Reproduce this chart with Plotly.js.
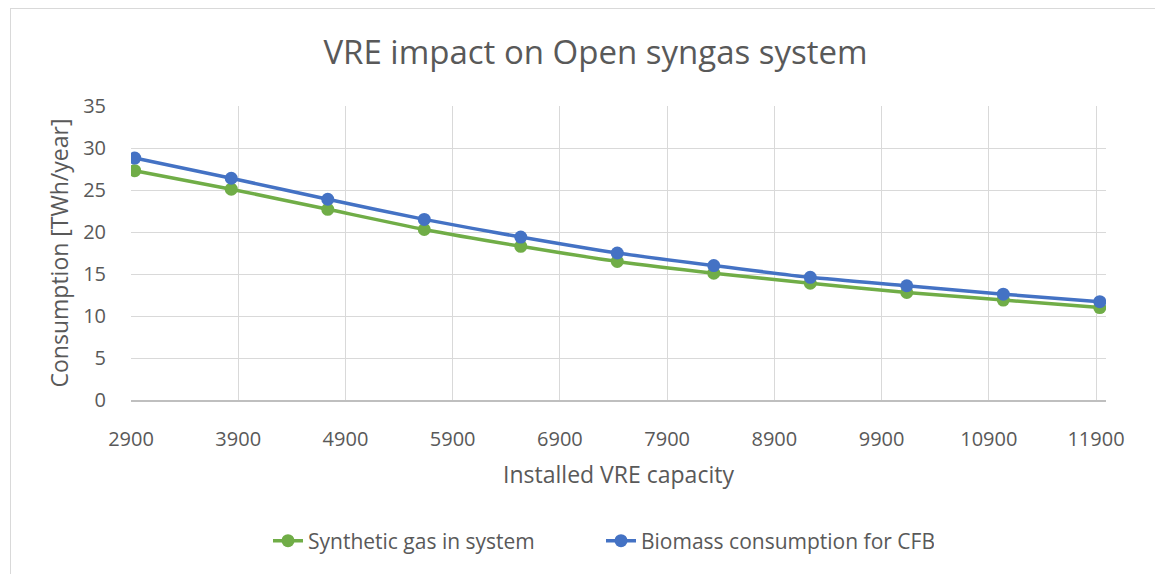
<!DOCTYPE html>
<html>
<head>
<meta charset="utf-8">
<script src="https://cdn.plot.ly/plotly-3.0.1.min.js"></script>
<style>
  html, body { margin: 0; padding: 0; background: #ffffff; }
  #wrap { position: relative; width: 1155px; height: 574px; overflow: hidden; }
  #chart { position: absolute; left: 0; top: 0; width: 1155px; height: 574px; }
  #frame { position: absolute; left: 10px; top: 8px; width: 1200px; height: 600px;
           border-left: 1px solid #d9d9d9; border-top: 1px solid #d9d9d9; pointer-events: none; }
</style>
</head>
<body>
<div id="wrap">
  <div id="chart"></div>
  <div id="frame"></div>
</div>
<script>
// Installed VRE capacity (x values of the points)
const vreCapacity = [2935, 3835, 4735, 5635, 6535, 7435, 8335, 9235, 10135, 11035, 11935];
// Synthetic gas in system [TWh/year]
const syntheticGas = [27.3, 25.1, 22.7, 20.3, 18.3, 16.5, 15.1, 13.9, 12.8, 11.9, 11.0];
// Biomass consumption for CFB [TWh/year]
const biomassCFB = [28.8, 26.4, 23.9, 21.5, 19.4, 17.5, 16.0, 14.6, 13.6, 12.6, 11.7];
const seriesNames = ["Synthetic gas in system", "Biomass consumption for CFB"];

const FONT = "Open Sans, Lato, sans-serif";
const TXT = "#595959";

const traces = [
  {
    x: vreCapacity, y: syntheticGas, name: seriesNames[0], type: "scatter", mode: "lines+markers",
    line: { color: "#70AD47", width: 3.5, shape: "spline", smoothing: 0.6 },
    marker: { color: "#70AD47", size: 13 }
  },
  {
    x: vreCapacity, y: biomassCFB, name: seriesNames[1], type: "scatter", mode: "lines+markers",
    line: { color: "#4472C4", width: 3.5, shape: "spline", smoothing: 0.6 },
    marker: { color: "#4472C4", size: 13 }
  }
];

const layout = {
  width: 1155, height: 574,
  paper_bgcolor: "#ffffff", plot_bgcolor: "#ffffff",
  margin: { l: 131, r: 49, t: 106, b: 174 },
  font: { family: FONT, color: TXT },
  title: {
    text: "VRE impact on Open syngas system",
    font: { family: FONT, size: 33, color: TXT },
    xref: "container", x: 0.5156, xanchor: "center",
    yref: "container", y: 0.909, yanchor: "middle"
  },
  xaxis: {
    range: [2900, 11993], tick0: 2900, dtick: 1000, tickmode: "linear", tickformat: "d",
    showgrid: true, gridcolor: "#d9d9d9", gridwidth: 1,
    showline: true, linecolor: "#bfbfbf", linewidth: 1.5,
    zeroline: false,
    ticks: "outside", ticklen: 20, tickcolor: "rgba(0,0,0,0)",
    tickfont: { family: FONT, size: 20, color: TXT },
    title: { text: "Installed VRE capacity", font: { family: FONT, size: 23, color: TXT }, standoff: 16 }
  },
  yaxis: {
    range: [0, 35], tick0: 0, dtick: 5, tickmode: "linear",
    showgrid: true, gridcolor: "#d9d9d9", gridwidth: 1,
    showline: false, zeroline: false,
    ticks: "outside", ticklen: 20, tickcolor: "rgba(0,0,0,0)",
    tickfont: { family: FONT, size: 20, color: TXT },
    title: { text: "Consumption [TWh/year]", font: { family: FONT, size: 23, color: TXT }, standoff: 8 }
  },
  showlegend: true,
  legend: {
    orientation: "h",
    xref: "container", x: 268 / 1155, xanchor: "left",
    yref: "container", y: 0.0575, yanchor: "middle",
    font: { family: FONT, size: 21, color: TXT },
    entrywidth: 288, entrywidthmode: "pixels"
  }
};

Plotly.newPlot("chart", traces, layout, { displayModeBar: false, staticPlot: true });
</script>
</body>
</html>
